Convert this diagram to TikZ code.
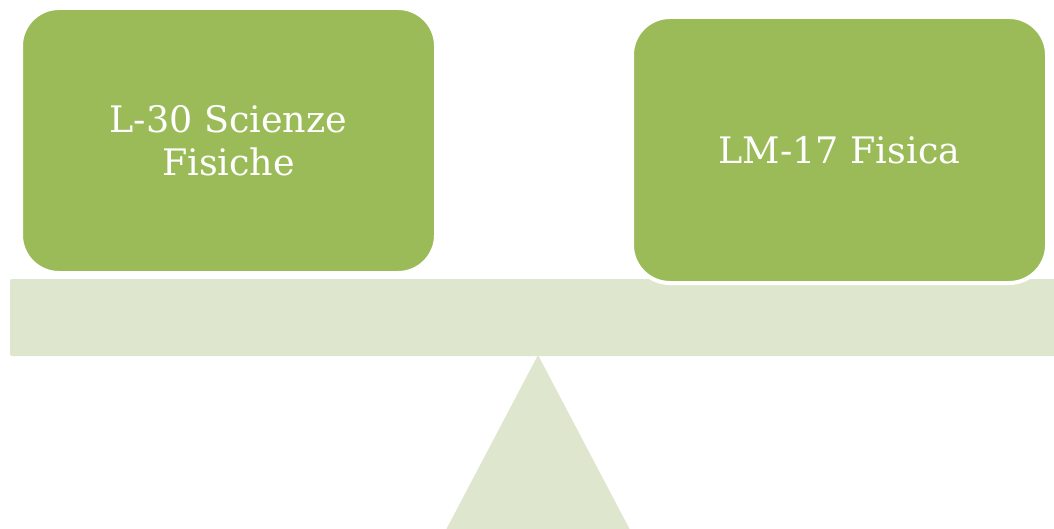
\documentclass[tikz,border=0pt]{standalone}
\usepackage{fontspec}
\setmainfont{DejaVu Serif}
\definecolor{boxgreen}{HTML}{9BBB59}
\definecolor{beamgreen}{HTML}{DEE7CE}
\begin{document}
\begin{tikzpicture}[x=1pt,y=-1pt,
  greenbox/.style={draw=white,line width=4pt,fill=boxgreen,rounded corners=38pt,
    text=white,font=\fontsize{36.5}{43}\selectfont,align=center,inner sep=0pt}]
\useasboundingbox (0,0) rectangle (1054,529);
\begin{scope}
\clip (0,0) rectangle (1054,529);
% beam
\fill[beamgreen,rounded corners=2pt] (10,279) rectangle (1070,356);
% fulcrum
\fill[beamgreen] (538,355) -- (638,545) -- (438,545) -- cycle;
\end{scope}
% boxes
\node[greenbox,minimum width=415pt,minimum height=265pt] (left) at (228.5,140.5) {L-30 Scienze\\Fisiche};
\node[greenbox,minimum width=415pt,minimum height=266pt] (right) at (839.5,150) {LM-17 Fisica};
\end{tikzpicture}
\end{document}
